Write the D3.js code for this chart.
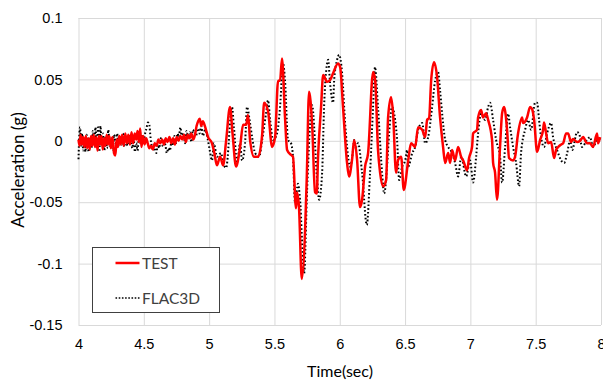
<!DOCTYPE html>
<html>
<head>
<meta charset="utf-8">
<script src="https://cdn.jsdelivr.net/npm/d3@7"></script>
<style>
  body { margin: 0; background: #fff; }
  svg { display: block; font-family: Lato, "Open Sans", sans-serif; }
</style>
</head>
<body>
<svg id="chart" width="603" height="381"></svg>
<script>
// time (sec) and acceleration (g)
const testT = [4.000,4.008,4.016,4.026,4.036,4.046,4.056,4.066,4.076,4.086,4.096,4.106,4.116,4.126,4.136,4.146,4.156,4.166,4.176,4.186,4.196,4.206,4.216,4.226,4.236,4.248,4.260,4.272,4.282,4.292,4.302,4.312,4.322,4.334,4.346,4.358,4.370,4.382,4.394,4.406,4.418,4.430,4.442,4.452,4.462,4.472,4.482,4.494,4.506,4.518,4.530,4.542,4.556,4.570,4.584,4.598,4.612,4.626,4.640,4.654,4.668,4.682,4.696,4.710,4.724,4.738,4.752,4.766,4.780,4.794,4.808,4.822,4.836,4.850,4.864,4.878,4.892,4.904,4.916,4.928,4.940,4.952,
  4.969,4.992,5.022,5.040,5.060,5.084,5.107,5.130,5.160,5.180,5.206,5.237,5.260,5.283,5.298,5.313,5.344,5.375,5.406,5.421,5.451,5.482,5.505,5.528,5.543,5.558,5.581,5.597,5.627,5.642,5.665,5.673,5.688,5.709,5.747,5.765,5.788,5.811,5.824,5.834,5.857,5.873,5.903,5.926,5.949,5.987,6.003,6.025,6.056,6.071,6.094,6.110,6.133,6.155,6.171,6.194,6.217,6.255,6.271,6.293,6.309,6.332,6.355,6.370,6.393,6.408,6.431,6.447,6.470,6.490,6.524,6.546,6.577,6.600,6.631,6.654,6.669,6.684,6.700,6.722,6.745,6.768,6.791,6.807,6.830,6.845,6.860,6.883,6.906,6.929,6.945,6.975,6.990,7.013,7.021,7.051,7.059,7.082,7.097,7.120,7.136,7.166,7.174,7.189,7.204,7.227,7.243,7.258,7.281,7.296,7.327,7.342,7.365,7.396,7.404,7.434,7.457,7.472,7.488,7.511,7.534,7.557,7.564,7.580,7.595,7.618,7.641,7.656,7.672,7.695,7.710,7.733,7.748,7.771,7.786,7.817,7.840,7.863,7.893,7.916,7.939,7.970,7.977,7.993];
const testG = [0.001,-0.004,0.005,-0.003,0.003,-0.005,0.004,-0.006,0.002,-0.007,0.004,-0.004,0.005,-0.005,0.003,-0.008,0.004,-0.003,0.004,-0.007,0.002,-0.004,0.005,-0.003,0.004,-0.006,0.003,-0.010,-0.012,0.001,-0.005,0.004,-0.003,0.005,-0.004,0.006,-0.002,0.005,-0.003,0.007,-0.002,0.006,0.001,0.008,-0.001,0.010,-0.005,0.004,-0.003,0.002,-0.002,-0.006,-0.004,-0.007,-0.002,-0.004,0.001,-0.002,0.001,-0.003,0.002,-0.001,0.003,-0.002,0.002,-0.003,0.003,0.000,0.004,0.001,0.005,-0.001,0.005,0.002,0.006,0.001,0.005,0.012,0.016,0.018,0.012,0.016,
  0.0115,0.003,-0.002,-0.010,-0.020,-0.013,-0.020,0.000,0.0275,0.005,-0.021,-0.005,0.013,0.013,0.021,0.001,-0.013,-0.013,0.005,0.031,0.024,-0.005,0.003,0.049,0.049,0.067,0.019,-0.0075,-0.0115,-0.013,-0.055,-0.042,-0.054,-0.1125,-0.032,0.040,0.0145,-0.042,-0.043,-0.013,0.0275,0.0535,0.048,0.0495,0.055,0.063,0.060,0.0275,-0.018,-0.029,-0.0155,0.0005,-0.016,-0.054,-0.048,-0.021,-0.010,0.056,0.0495,-0.0075,-0.026,-0.037,-0.032,0.019,0.0355,0.0225,-0.026,-0.0155,-0.013,-0.040,-0.016,-0.002,-0.005,0.011,0.009,0.003,0.017,0.0185,0.0495,0.064,0.052,0.019,-0.005,-0.018,-0.010,-0.018,-0.0075,-0.016,-0.005,-0.013,-0.016,-0.024,-0.014,-0.005,0.006,0.009,0.019,0.025,0.019,0.0225,0.017,0.0007,-0.018,-0.026,-0.048,-0.005,0.0225,0.0275,0.009,-0.014,-0.016,-0.013,0.006,0.019,0.0145,0.019,0.0275,0.026,0.017,-0.009,0.0007,0.009,0.015,0.006,-0.002,-0.001,-0.014,-0.0075,-0.005,-0.003,-0.002,0.006,0.006,-0.001,0.0015,-0.001,0.000,0.003,-0.002,-0.002,-0.005,0.006,-0.002,0.003];

const flacT = [4.000,4.006,4.012,4.020,4.028,4.036,4.045,4.053,4.062,4.070,4.080,4.090,4.100,4.110,4.120,4.130,4.140,4.150,4.160,4.168,4.178,4.188,4.198,4.208,4.218,4.228,4.238,4.250,4.262,4.272,4.284,4.296,4.306,4.316,4.330,4.340,4.350,4.362,4.375,4.388,4.400,4.412,4.422,4.432,4.442,4.452,4.462,4.474,4.486,4.498,4.510,4.520,4.532,4.542,4.552,4.562,4.572,4.584,4.596,4.606,4.618,4.630,4.642,4.654,4.666,4.676,4.688,4.700,4.712,4.722,4.734,4.746,4.758,4.768,4.780,4.792,4.804,4.816,4.828,4.840,4.852,4.864,4.876,4.888,4.900,4.912,4.926,4.940,4.952,
  4.969,4.990,5.005,5.022,5.037,5.060,5.092,5.107,5.130,5.175,5.190,5.214,5.237,5.252,5.275,5.290,5.313,5.329,5.352,5.383,5.406,5.436,5.451,5.467,5.490,5.520,5.543,5.566,5.581,5.604,5.627,5.642,5.658,5.680,5.696,5.727,5.750,5.788,5.827,5.842,5.865,5.880,5.903,5.911,5.926,5.949,5.957,5.980,5.995,6.018,6.041,6.056,6.079,6.102,6.110,6.125,6.140,6.171,6.207,6.232,6.255,6.270,6.293,6.324,6.340,6.362,6.378,6.400,6.424,6.439,6.455,6.478,6.501,6.516,6.524,6.555,6.577,6.600,6.631,6.654,6.677,6.707,6.730,6.753,6.768,6.784,6.807,6.830,6.860,6.883,6.906,6.930,6.968,6.998,7.021,7.044,7.059,7.082,7.113,7.136,7.151,7.174,7.197,7.227,7.243,7.266,7.289,7.304,7.327,7.350,7.373,7.388,7.419,7.442,7.465,7.495,7.511,7.526,7.541,7.564,7.587,7.618,7.633,7.664,7.695,7.718,7.741,7.764,7.779,7.817,7.832,7.855,7.893,7.916,7.939,7.970,8.000];
const flacG = [-0.015,0.004,0.011,-0.004,0.006,-0.008,0.003,-0.009,0.005,-0.004,-0.009,0.002,-0.006,0.008,-0.002,0.011,-0.005,0.011,-0.009,0.012,-0.003,0.006,-0.008,0.004,-0.006,0.009,-0.004,0.002,-0.007,0.005,-0.002,0.006,-0.004,0.004,-0.003,0.006,-0.005,0.003,-0.004,0.004,0.001,-0.006,0.002,-0.009,-0.002,-0.008,0.003,-0.002,0.004,-0.001,0.006,0.010,0.015,0.013,0.002,-0.005,-0.008,-0.004,-0.010,-0.003,-0.006,0.002,-0.004,0.001,-0.004,-0.010,-0.006,-0.008,0.000,-0.004,0.004,-0.002,0.006,0.003,0.011,0.001,0.006,-0.002,0.008,0.002,0.007,-0.001,0.009,0.006,0.004,0.010,0.006,0.012,0.004,
  0.009,0.001,-0.008,-0.016,-0.002,-0.013,-0.010,-0.018,-0.022,0.0275,0.011,-0.018,-0.002,-0.016,-0.002,0.0275,0.0145,0.003,-0.010,-0.013,0.0007,0.0225,0.033,0.017,0.0007,0.006,0.0275,0.063,0.049,0.0007,-0.002,-0.013,-0.051,-0.035,-0.048,-0.108,-0.040,0.029,-0.032,-0.048,-0.026,0.0275,0.063,0.066,0.047,0.031,0.049,0.066,0.070,0.055,0.0145,-0.005,-0.021,-0.0075,0.0007,-0.005,-0.002,-0.026,-0.0685,-0.026,0.0275,0.060,0.027,-0.026,-0.043,-0.021,0.006,0.0275,0.017,0.0007,-0.032,-0.021,-0.016,-0.0075,-0.021,-0.010,-0.005,0.009,0.0145,-0.002,0.003,0.0275,0.049,0.056,0.041,0.022,0.0007,-0.005,-0.010,-0.018,-0.029,-0.013,-0.029,-0.016,-0.034,-0.013,0.006,0.022,0.017,0.0275,0.031,0.017,0.0007,-0.013,-0.034,-0.005,0.022,0.011,-0.005,-0.018,-0.037,-0.010,0.009,0.017,0.009,0.031,0.031,0.017,0.003,-0.005,0.006,0.0145,0.003,-0.0075,-0.016,-0.018,-0.010,0.0007,-0.0075,0.007,0.006,-0.005,0.0007,0.003,-0.005,0.0007,0.002];

const xTicks = [4, 4.5, 5, 5.5, 6, 6.5, 7, 7.5, 8];
const yTicks = [0.1, 0.05, 0, -0.05, -0.1, -0.15];
const seriesNames = ['TEST', 'FLAC3D'];

const svg = d3.select('#chart');
const margin = {top: 18, right: 2, bottom: 56, left: 78.5};
const width = +svg.attr('width');
const height = +svg.attr('height');
const innerWidth = width - margin.left - margin.right;
const innerHeight = height - margin.top - margin.bottom;

const g = svg.append('g')
    .attr('transform', `translate(${margin.left}, ${margin.top})`);

const xScale = d3.scaleLinear().domain([4, 8]).range([0, innerWidth]);
const yScale = d3.scaleLinear().domain([-0.15, 0.1]).range([innerHeight, 0]);

// gridlines + tick labels (plain hyphen for negatives, like the original)
const plain = d => String(d);
const xAxisG = g.append('g')
    .attr('transform', `translate(0, ${innerHeight})`)
    .call(d3.axisBottom(xScale).tickValues(xTicks).tickSize(-innerHeight).tickPadding(14).tickFormat(plain));
const yAxisG = g.append('g')
    .call(d3.axisLeft(yScale).tickValues(yTicks).tickSize(-innerWidth).tickPadding(16).tickFormat(plain));

[xAxisG, yAxisG].forEach(a => {
  a.select('.domain').remove();
  a.selectAll('line').attr('stroke', '#d9d9d9').attr('stroke-width', 1);
  a.selectAll('text').attr('fill', '#000').style('font-size', '14.5px');
});

const line = (ts, vs) => d3.line()
    .x(i => xScale(ts[i]))
    .y(i => yScale(vs[i]))
    .curve(d3.curveMonotoneX)(d3.range(ts.length));

g.append('path')
    .attr('d', line(flacT, flacG))
    .attr('fill', 'none')
    .attr('stroke', '#000')
    .attr('stroke-width', 2)
    .attr('stroke-dasharray', '1.6,2.2');

g.append('path')
    .attr('d', line(testT, testG))
    .attr('fill', 'none')
    .attr('stroke', '#ff0000')
    .attr('stroke-width', 2.5)
    .attr('stroke-linejoin', 'round');

// axis titles
svg.append('text')
    .attr('x', 340).attr('y', 377)
    .attr('text-anchor', 'middle')
    .style('font-size', '16px')
    .attr('fill', '#000')
    .text('Time(sec)');

svg.append('text')
    .attr('transform', 'translate(24, 170) rotate(-90)')
    .attr('text-anchor', 'middle')
    .style('font-size', '17px')
    .attr('fill', '#000')
    .text('Acceleration (g)');

// legend
const legend = svg.append('g').attr('transform', 'translate(92.5, 247.5)');
legend.append('rect')
    .attr('width', 127).attr('height', 65)
    .attr('fill', '#fff').attr('stroke', '#404040').attr('stroke-width', 1);
seriesNames.forEach((name, i) => {
  const y = 15.5 + i * 35;
  legend.append('line')
      .attr('x1', 23).attr('x2', 47).attr('y1', y).attr('y2', y)
      .attr('stroke', i === 0 ? '#ff0000' : '#000')
      .attr('stroke-width', i === 0 ? 2.5 : 1.6)
      .attr('stroke-dasharray', i === 0 ? null : '1.6,1.6');
  legend.append('text')
      .attr('x', 49.5).attr('y', y + 5.5)
      .style('font-size', '15.5px')
      .attr('fill', '#404040')
      .text(name);
});
</script>
</body>
</html>
